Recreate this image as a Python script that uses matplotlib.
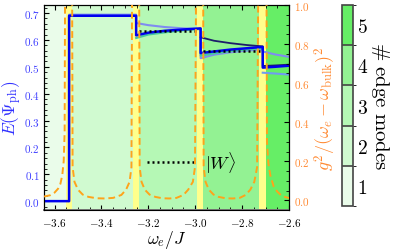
import numpy as np
import matplotlib
matplotlib.use('Agg')
import matplotlib.pyplot as plt
from matplotlib.colors import ListedColormap, BoundaryNorm
from matplotlib.cm import ScalarMappable
from matplotlib.lines import Line2D
from matplotlib.ticker import FuncFormatter, MultipleLocator

plt.rcParams['mathtext.fontset'] = 'cm'
plt.rcParams['font.family'] = 'DejaVu Serif'

# number of edge modes per frequency window and its colours
edge_modes = [1, 2, 3, 4, 5]
mode_colors = ['#eafcea', '#d0fad0', '#b5f8b5', '#93f293', '#66ee66']

x_lo, x_hi = -3.645, -2.6
band_lo = [-3.552, -3.267, -2.993, -2.728]
band_hi = [-3.527, -3.241, -2.968, -2.698]
band_mid = [-3.538, -3.252, -2.977, -2.712]

# E(Psi_ph) curves
blue_x = [-3.645, -3.538, -3.538, -3.252, -3.252, -3.20, -3.13, -3.05, -2.977,
          -2.977, -2.92, -2.85, -2.78, -2.712, -2.712, -2.66, -2.6]
blue_y = [0.0, 0.0, 0.69, 0.69, 0.617, 0.627, 0.634, 0.639, 0.643,
          0.551, 0.557, 0.564, 0.569, 0.574, 0.497, 0.500, 0.504]

peri_x = [-3.538, -3.538, -3.252, -3.252, -3.20, -3.13, -3.05, -2.977,
          -2.977, -2.92, -2.85, -2.78, -2.712, -2.712, -2.66, -2.6]
peri_y = [0.0, 0.694, 0.694, 0.663, 0.655, 0.648, 0.643, 0.640,
          0.532, 0.545, 0.554, 0.560, 0.565, 0.557, 0.546, 0.537]

teal_x = [-3.252, -3.20, -3.13, -3.05, -2.977, -2.977, -2.92, -2.85, -2.78, -2.712]
teal_y = [0.607, 0.620, 0.628, 0.636, 0.641, 0.541, 0.550, 0.558, 0.564, 0.569]

navy_x = [-2.977, -2.92, -2.85, -2.78, -2.712, -2.712, -2.66, -2.6]
navy_y = [0.610, 0.597, 0.588, 0.581, 0.576, 0.503, 0.505, 0.508]

low_x = [-2.712, -2.66, -2.6]
low_y = [0.478, 0.475, 0.471]

w_x = [[-3.24, -2.99], [-2.965, -2.725]]
w_y = [[0.633, 0.633], [0.559, 0.559]]

# g^2/(w_e - w_bulk)^2, read per gap
orange_x = [
    [-3.645, -3.62, -3.60, -3.585, -3.575, -3.567, -3.561, -3.557, -3.554],
    [-3.526, -3.523, -3.515, -3.50, -3.48, -3.455, -3.42, -3.385, -3.35, -3.315, -3.295, -3.28, -3.272, -3.268],
    [-3.240, -3.237, -3.229, -3.215, -3.195, -3.17, -3.14, -3.11, -3.08, -3.05, -3.03, -3.01, -3.001, -2.994],
    [-2.967, -2.964, -2.956, -2.942, -2.922, -2.90, -2.87, -2.84, -2.81, -2.785, -2.765, -2.748, -2.736, -2.729],
    [-2.697, -2.694, -2.688, -2.68, -2.665, -2.65, -2.63, -2.6],
]
orange_y = [
    [0.020, 0.026, 0.040, 0.060, 0.085, 0.13, 0.20, 0.35, 1.5],
    [1.5, 0.17, 0.095, 0.055, 0.030, 0.018, 0.011, 0.010, 0.013, 0.028, 0.055, 0.095, 0.17, 1.5],
    [1.5, 0.17, 0.095, 0.055, 0.030, 0.018, 0.011, 0.010, 0.013, 0.028, 0.055, 0.095, 0.17, 1.5],
    [1.5, 0.17, 0.095, 0.055, 0.030, 0.018, 0.011, 0.010, 0.013, 0.028, 0.055, 0.095, 0.17, 1.5],
    [1.5, 0.30, 0.19, 0.13, 0.07, 0.045, 0.022, 0.012],
]

fig = plt.figure(figsize=(4.11, 2.51), dpi=100)
ax = fig.add_axes([44 / 411, 1 - 211 / 251, 245 / 411, 205 / 251])
ax.set_xlim(x_lo, x_hi)
ax.set_ylim(-0.033, 0.73)

region_edges = [x_lo] + band_mid + [x_hi]
for i in range(len(edge_modes)):
    ax.axvspan(region_edges[i], region_edges[i + 1], color=mode_colors[i], lw=0, zorder=0)
for lo, hi in zip(band_lo, band_hi):
    ax.axvspan(lo, hi, color='#ffff8c', lw=0, zorder=0.5)

ax.plot(peri_x, peri_y, color='#7f8cf0', lw=1.5, zorder=2)
ax.plot(low_x, low_y, color='#6f9cf0', lw=1.5, zorder=2)
ax.plot(teal_x, teal_y, color='#45c8a0', lw=1.5, zorder=2)
ax.plot(navy_x, navy_y, color='#1c1c6a', lw=1.3, zorder=3)
ax.plot(blue_x, blue_y, color='#0000ee', lw=1.8, zorder=4)
for xs, ys in zip(w_x, w_y):
    ax.plot(xs, ys, color='black', lw=1.8, ls=(0, (0.8, 1.2)), zorder=5)

w_handle = Line2D([], [], color='black', lw=1.8, ls=(0, (0.8, 1.2)))
ax.legend([w_handle], [r'$|W\rangle$'], loc='center left', bbox_to_anchor=(0.42, 0.234),
          frameon=False, fontsize=13, handlelength=2.6, handletextpad=0.6,
          borderpad=0, borderaxespad=0)

fmt = FuncFormatter(lambda v, p: f'${v:.1f}$')
ax.xaxis.set_major_locator(MultipleLocator(0.2))
ax.xaxis.set_minor_locator(MultipleLocator(0.05))
ax.yaxis.set_major_locator(MultipleLocator(0.1))
ax.yaxis.set_minor_locator(MultipleLocator(0.02))
ax.xaxis.set_major_formatter(fmt)
ax.yaxis.set_major_formatter(fmt)
ax.tick_params(which='both', direction='in', top=True, right=False, labelsize=8)
ax.tick_params(which='major', length=3.5)
ax.tick_params(which='minor', length=2)
ax.tick_params(axis='y', labelcolor='#4040ff', pad=3)
ax.tick_params(axis='x', pad=4)
ax.spines['bottom'].set_color('#777777')
ax.spines['bottom'].set_linewidth(1.4)
ax.set_xlabel(r'$\omega_e/J$', fontsize=12.5, labelpad=0)
ax.set_ylabel(r'$E(\Psi_{\rm ph})$', fontsize=12.5, color='#3030ff', labelpad=0)

ax2 = ax.twinx()
ax2.set_ylim(-0.049, 1.0)
for xs, ys in zip(orange_x, orange_y):
    ax2.plot(xs, ys, color='#ffa31a', lw=1.4, ls=(0, (3.5, 2)), zorder=3)
ax2.yaxis.set_major_locator(MultipleLocator(0.2))
ax2.yaxis.set_minor_locator(MultipleLocator(0.05))
ax2.yaxis.set_major_formatter(fmt)
ax2.tick_params(which='both', direction='in', labelsize=8, labelcolor='#ff8a33')
ax2.tick_params(which='major', length=3.5)
ax2.tick_params(which='minor', length=2)
ax2.set_ylabel(r'$g^2/(\omega_e-\omega_{\rm bulk})^2$', fontsize=13, color='#ff8a33', labelpad=2)

cax = fig.add_axes([342 / 411, 1 - 207 / 251, 11 / 411, 201 / 251])
cmap = ListedColormap(mode_colors)
norm = BoundaryNorm(np.arange(0.5, 6.0, 1.0), cmap.N)
cb = fig.colorbar(ScalarMappable(norm=norm, cmap=cmap), cax=cax, ticks=edge_modes, drawedges=True)
cb.outline.set_edgecolor('#444444')
cb.outline.set_linewidth(1.2)
cb.dividers.set_color('#444444')
cb.dividers.set_linewidth(1.2)
cb.ax.set_yticklabels([f'${m}$' for m in edge_modes])
cb.ax.tick_params(length=0, labelsize=14, pad=3)
cb.set_label(r'$\#\ \mathrm{edge\ modes}$', fontsize=15, rotation=270, labelpad=16)

fig.savefig('out.png', dpi=100)
